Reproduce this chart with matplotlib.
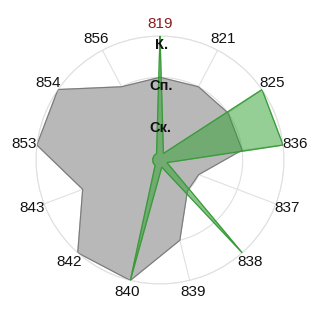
import numpy as np
import matplotlib
matplotlib.use('Agg')
import matplotlib.pyplot as plt

plt.rcParams['font.family'] = ['Liberation Sans', 'DejaVu Sans']

categories = ['819', '821', '825', '836', '837', '838', '839',
              '840', '842', '843', '853', '854', '856']
gray_values = [2, 2, 2, 2, 1, 1, 2, 3, 3, 2, 3, 3, 2]
green_values = [3, 0.18, 3, 3, 0.18, 3, 0.18, 3, 0.18, 0.18, 0.18, 0.18, 0.18]
level_labels = ['Ск.', 'Сп.', 'К.']
levels = [1, 2, 3]

n = len(categories)
angles = np.linspace(0, 2 * np.pi, n, endpoint=False)
ang_closed = np.append(angles, angles[0])


def closed(vals):
    return np.append(vals, vals[0])


fig = plt.figure(figsize=(3.2, 3.2), dpi=100)
ax = fig.add_axes([36 / 320, 36 / 320, 248 / 320, 248 / 320], projection='polar')
ax.set_theta_zero_location('N')
ax.set_theta_direction(-1)
ax.set_ylim(0, 3)

# grid
ax.set_xticks(angles)
ax.set_xticklabels([])
ax.set_yticks(levels)
ax.set_yticklabels([])
ax.tick_params(length=0)
ax.grid(True, color='#e0e0e0', linewidth=0.8)
ax.spines['polar'].set_color('#e0e0e0')
ax.spines['polar'].set_linewidth(0.8)

# series
ax.fill(ang_closed, closed(gray_values), color='#b8b8b8', zorder=2)
ax.plot(ang_closed, closed(gray_values), color='#7a7a7a', linewidth=0.8, zorder=3)
ax.fill(ang_closed, closed(green_values), color='#2ca02c', alpha=0.5, zorder=4)
ax.plot(ang_closed, closed(green_values), color='#3a9a3a', linewidth=0.8, zorder=5)

# category labels
for a, lab in zip(angles, categories):
    col = '#8b1a1a' if lab == '819' else '#111111'
    ax.text(a, 3.3, lab, ha='center', va='center', fontsize=11,
            color=col, clip_on=False)

# level labels
for r, lab in zip(levels, level_labels):
    ax.text(0.012, r - 0.22, lab, ha='center', va='center', fontsize=10.5,
            fontweight='bold', color='#111111', zorder=6)

fig.savefig('out.png', dpi=100)
